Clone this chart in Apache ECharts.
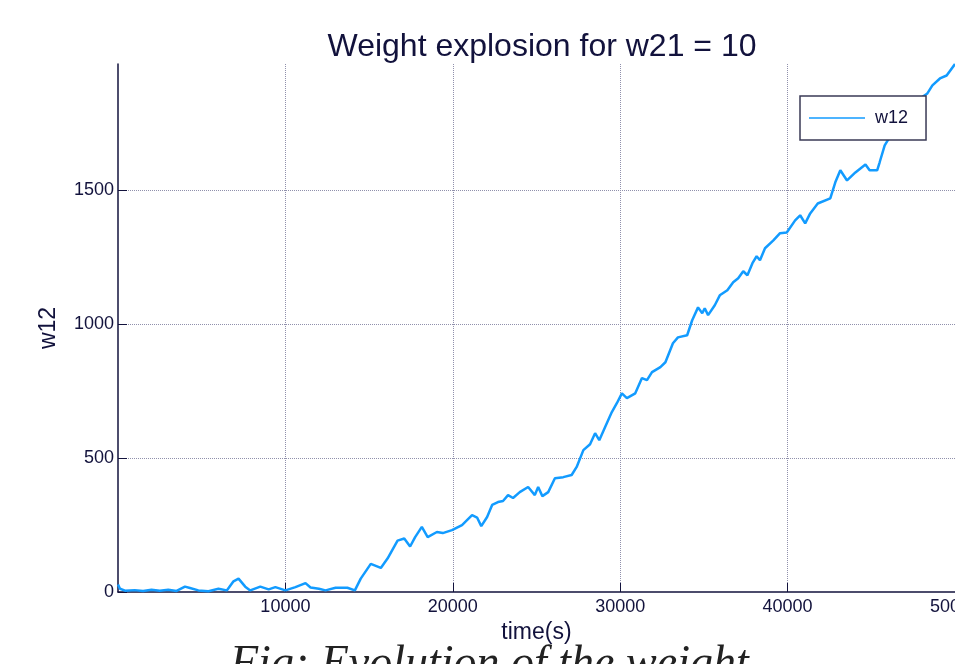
<!DOCTYPE html>
<html>
<head>
<meta charset="utf-8">
<title>Weight explosion</title>
<script src="https://cdn.jsdelivr.net/npm/echarts@6/dist/echarts.min.js"></script>
<style>
  html, body { margin: 0; padding: 0; background: #fff; }
  #weightLine { width: 955px; height: 664px; }
</style>
</head>
<body>
<div id="weightLine"></div>
<script>
// time (s)
const times = [0, 120, 420, 1000, 1500, 2000, 2500, 3000, 3500, 4000, 4300, 4800, 5400, 6000, 6500, 6900, 7200, 7600, 7900, 8500,
  9000, 9400, 10000, 10600, 11200, 11500, 12000, 12400, 13000, 13700, 14150, 14500, 15100, 15700, 16100, 16700, 17100, 17450, 17750, 18150,
  18500, 19050, 19400, 19950, 20550, 21150, 21450, 21700, 22050, 22350, 22700, 23000, 23300, 23600, 24000, 24500, 24900, 25100, 25350, 25700,
  26100, 26600, 27100, 27400, 27800, 28200, 28500, 28750, 29100, 29500, 29800, 30100, 30400, 30900, 31300, 31600, 31900, 32400, 32700, 33150,
  33450, 34000, 34300, 34650, 34900, 35050, 35250, 35650, 35950, 36400, 36750, 37050, 37350, 37600, 37900, 38150, 38350, 38650, 39150, 39550,
  39950, 40450, 40750, 41050, 41350, 41800, 42550, 42850, 43150, 43550, 44050, 44650, 44900, 45350, 45500, 45800, 46400, 47000, 47600, 48350,
  48650, 49100, 49500, 50000];
// w12 values
const w12 = [28, 12, 5, 7, 4, 8, 5, 8, 4, 20, 15, 6, 3, 12, 6, 40, 50, 20, 6, 20,
  10, 18, 6, 18, 33, 17, 12, 6, 16, 16, 6, 50, 105, 90, 125, 192, 200, 170, 205, 243,
  205, 224, 220, 231, 250, 287, 278, 246, 280, 325, 336, 340, 362, 351, 373, 392, 362, 392, 358, 373,
  425, 429, 437, 467, 530, 552, 593, 567, 616, 672, 705, 742, 724, 742, 799, 791, 821, 840, 858, 929,
  951, 959, 1015, 1063, 1041, 1060, 1034, 1071, 1108, 1127, 1157, 1172, 1198, 1183, 1228, 1254, 1239, 1284, 1313, 1340,
  1343, 1388, 1407, 1377, 1414, 1451, 1470, 1530, 1575, 1537, 1567, 1597, 1575, 1575, 1605, 1668, 1730, 1785, 1830, 1862,
  1892, 1918, 1929, 1972];

const navy = '#12123c';
const gridDots = '#9090ac';

const myChart = echarts.init(document.getElementById('weightLine'));
const option = {
  animation: false,
  title: {
    text: 'Weight explosion for w21 = 10',
    left: 537,
    textAlign: 'center',
    top: 26,
    textStyle: { fontFamily: 'Liberation Sans', fontSize: 32, fontWeight: 'normal', color: navy }
  },
  legend: {
    left: 800,
    top: 96,
    padding: [13, 18, 13, 9],
    itemWidth: 56,
    itemHeight: 1.5,
    icon: 'rect',
    backgroundColor: '#fff',
    borderColor: '#3a3a55',
    borderWidth: 1.5,
    borderRadius: 0,
    textStyle: { fontFamily: 'Liberation Sans', fontSize: 18, color: navy, padding: [0, 0, 0, 5] },
    data: ['w12']
  },
  grid: { left: 118, right: 0, top: 64, bottom: 72, outerBoundsMode: 'none', containLabel: false },
  xAxis: {
    type: 'value',
    min: 0,
    max: 50000,
    interval: 10000,
    name: 'time(s)',
    nameLocation: 'middle',
    nameGap: 22,
    nameTextStyle: { fontFamily: 'Liberation Sans', fontSize: 23, color: navy },
    axisLine: { lineStyle: { color: navy, width: 1.5 } },
    axisTick: { inside: true, length: 9, lineStyle: { color: navy } },
    axisLabel: { showMinLabel: false, margin: 6, fontFamily: 'Liberation Sans', fontSize: 18, color: navy, formatter: v => String(v) },
    splitLine: { show: true, showMinLine: false, lineStyle: { color: gridDots, type: 'dotted', width: 1 } }
  },
  yAxis: {
    type: 'value',
    min: 0,
    max: 1972,
    interval: 500,
    name: 'w12',
    nameLocation: 'middle',
    nameGap: 58,
    nameRotate: 90,
    nameTextStyle: { fontFamily: 'Liberation Sans', fontSize: 23, color: navy },
    axisLine: { show: true, lineStyle: { color: navy, width: 1.5 } },
    axisTick: { show: true, inside: true, length: 9, lineStyle: { color: navy } },
    axisLabel: { showMaxLabel: false, margin: 4, fontFamily: 'Liberation Sans', fontSize: 18, color: navy, formatter: v => String(v) },
    splitLine: { show: true, showMinLine: false, showMaxLine: false, lineStyle: { color: gridDots, type: 'dotted', width: 1 } }
  },
  series: [
    {
      name: 'w12',
      type: 'line',
      symbol: 'none',
      z: 1,
      lineStyle: { color: '#129bff', width: 2.5 },
      itemStyle: { color: '#129bff' },
      data: times.map((t, i) => [t, w12[i]])
    }
  ],
  graphic: [
    {
      type: 'text',
      left: 230,
      top: 642,
      style: {
        text: 'Fig: Evolution of the weight',
        fontFamily: 'Liberation Serif',
        fontStyle: 'italic',
        fontSize: 46,
        fill: '#222'
      }
    }
  ]
};
myChart.setOption(option);

window.addEventListener('resize', () => {
  myChart.resize();
});
</script>
</body>
</html>
